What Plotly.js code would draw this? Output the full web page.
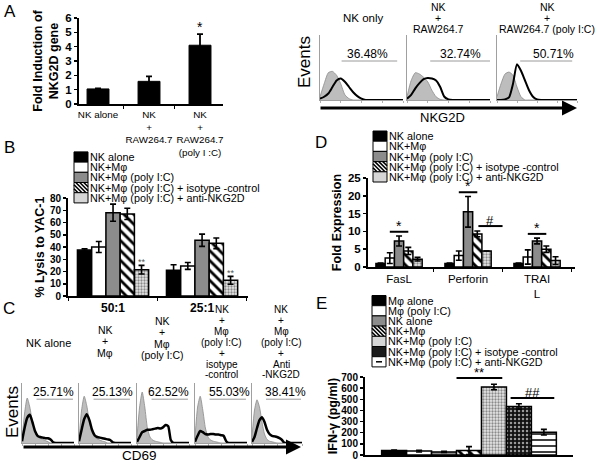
<!DOCTYPE html>
<html><head><meta charset="utf-8">
<script src="https://cdn.plot.ly/plotly-3.0.1.min.js"></script>
<style>html,body{margin:0;padding:0;background:#fff}#chart{width:598px;height:463px}</style>
</head><body><div id="chart"></div>
<script>
// ================= DATA =================
// Panel A - bar chart
const aCats = ['NK alone', 'NK<br>+<br>RAW264.7', 'NK<br>+<br>RAW264.7<br>(poly I :C)'];
const aVals = [1.05, 1.58, 4.1];
const aErr  = [0.03, 0.35, 0.78];
const aSig  = ['', '', '*'];

// Panel A - NKG2D histograms (percent of panel height per bin)
const histBins = [0,5,10,15,20,25,30,35,40,45,50,55,60,65,70,75,80,85,90,95,100];
const aHistTitles = [['NK only'], ['NK','+','RAW264.7'], ['NK','+','RAW264.7 (poly I:C)']];
const aHistPct = ['36.48%', '32.74%', '50.71%'];
const aIso1   = [5,25,42,44,38,25,8,2,0,0,0,0,0,0,0,0,0,0,0,0,0];
const aStain1 = [2,5,10,20,30,33,28,20,12,6,2,0,0,0,0,0,0,0,0,0,0];
const aIso2   = [5,30,42,40,35,28,15,5,1,0,0,0,0,0,0,0,0,0,0,0,0];
const aStain2 = [2,8,18,26,32,34,33,30,20,5,1,0,0,0,0,0,0,0,0,0,0];
const aIso3   = [5,25,40,43,38,20,5,0,0,0,0,0,0,0,0,0,0,0,0,0,0];
const aStain3 = [0,0,1,4,25,55,45,30,15,5,1,0,0,0,0,0,0,0,0,0,0];

// Panel B - % lysis to YAC-1
const bCats = ['50:1', '25:1'];
const bNames = ['NK alone', 'NK+Mφ', 'NK+Mφ (poly I:C)', 'NK+Mφ (poly I:C) + isotype -control', 'NK+Mφ (poly I:C) + anti-NKG2D'];
const bNKalone = [37.5, 21];   const bNKaloneErr = [1, 4.5];
const bNKM     = [40, 24.5];   const bNKMErr     = [4.5, 2.8];
const bPoly    = [68, 45.5];   const bPolyErr    = [7, 5];
const bIso     = [67, 43];     const bIsoErr     = [4.6, 4.3];
const bAnti    = [21.5, 12.8]; const bAntiErr    = [3.5, 3.2];
const bSig = ['**', '**'];

// Panel C - CD69 histograms
const cHistTitles = [['NK alone'], ['NK','+','Mφ'], ['NK','+','Mφ','(poly I:C)'],
  ['NK','+','Mφ','(poly I:C)','+','isotype','-control'], ['NK','+','Mφ','(poly I:C)','+','Anti','-NKG2D']];
const cHistPct = ['25.71%', '25.13%', '62.52%', '55.03%', '38.41%'];
const cIso1   = [5,50,75,60,35,18,10,8,6,4,2,0,0,0,0,0,0,0,0,0,0];
const cStain1 = [3,25,42,47,35,20,12,10,9,8,8,6,1,0,0,0,0,0,0,0,0];
const cIso2   = [5,55,78,62,35,18,10,7,5,3,2,0,0,0,0,0,0,0,0,0,0];
const cStain2 = [3,22,40,48,38,22,13,10,9,8,7,6,5,1,0,0,0,0,0,0,0];
const cIso3   = [10,60,85,60,25,10,5,3,2,1,0,0,0,0,0,0,0,0,0,0,0];
const cStain3 = [2,10,18,20,22,22,23,24,25,24,26,30,28,5,0,0,0,0,0,0,0];
const cIso4   = [10,60,78,55,25,10,5,3,2,1,0,0,0,0,0,0,0,0,0,0,0];
const cStain4 = [2,12,20,18,15,14,15,15,14,14,13,12,3,0,0,0,0,0,0,0,0];
const cIso5   = [10,55,72,60,35,15,6,3,2,1,0,0,0,0,0,0,0,0,0,0,0];
const cStain5 = [2,10,25,38,43,35,22,15,12,11,10,8,5,0,0,0,0,0,0,0,0];

// Panel D - fold expression
const dCats = ['FasL', 'Perforin', 'TRAI<br>L'];
const dNKalone = [1, 1, 1];         const dNKaloneErr = [0.1, 0.1, 0.1];
const dNKM     = [2.5, 3.2, 2.8];   const dNKMErr     = [1.5, 1.3, 2];
const dPoly    = [7.3, 15.5, 7.3];  const dPolyErr    = [1.4, 4.3, 0.8];
const dIso     = [4.5, 9.3, 5];     const dIsoErr     = [1, 0.8, 0.9];
const dAnti    = [2.2, 4.5, 1.8];   const dAntiErr    = [0.5, 0, 1.1];
const dStar = ['*', '*', '*'];
const dHash = ['', '#', ''];

// Panel E - IFN-gamma
const eCat = ['IFN-γ'];
const eNames = ['Mφ alone', 'Mφ (poly I:C)', 'NK alone', 'NK+Mφ', 'NK+Mφ (poly I:C)',
  'NK+Mφ (poly I:C) + isotype -control', 'NK+Mφ (poly I:C) + anti-NKG2D'];
const eVals = [40, 35, 28, 40, 610, 435, 205];
const eErr  = [5, 8, 6, 35, 25, 25, 25];
const eSig  = ['**', '##'];

// ================= LAYOUT HELPERS =================
const W = 598, H = 463;
const FONT = 'Liberation Sans, Arial, Helvetica, sans-serif';
const px = v => v / W;
const py = v => 1 - v / H;
const xd = (a, b) => [a / W, b / W];
const yd = (top, bot) => [1 - bot / H, 1 - top / H];

const traces = [];
const layout = {
  width: W, height: H, margin: {l: 0, r: 0, t: 0, b: 0},
  paper_bgcolor: '#fff', plot_bgcolor: 'rgba(0,0,0,0)',
  showlegend: false, barmode: 'overlay',
  font: {family: FONT, color: '#000', size: 12},
  shapes: [], annotations: []
};

function axKey(letter, n) { return letter + 'axis' + (n === 1 ? '' : n); }
function axId(letter, n) { return letter + (n === 1 ? '' : n); }
function setAxes(n, xdom, ydom, xopt, yopt) {
  layout[axKey('x', n)] = Object.assign({domain: xdom, anchor: axId('y', n), showgrid: false, zeroline: false, fixedrange: true}, xopt);
  layout[axKey('y', n)] = Object.assign({domain: ydom, anchor: axId('x', n), showgrid: false, zeroline: false, fixedrange: true}, yopt);
}
function barXopt(range, fsize, bold) {
  return {type: 'category', range: range, showline: true, linecolor: '#000', linewidth: 2,
    ticks: 'outside', tickson: 'boundaries', ticklen: 3, tickwidth: 1.5, tickcolor: '#000', tickangle: 0,
    tickfont: bold ? {size: fsize, weight: 'bold', color: '#000'} : {size: fsize, color: '#000'}};
}
function barYopt(range, dtick, title, standoff, tsize) {
  return {range: range, dtick: dtick, showline: true, linecolor: '#000', linewidth: 2,
    ticks: 'outside', ticklen: 3, tickwidth: 1.5, tickcolor: '#000',
    tickfont: {size: tsize, weight: 'bold', color: '#000'},
    title: {text: title, font: {size: 12.5, weight: 'bold', color: '#000'}, standoff: standoff}};
}
function histOpts() {
  return [
    {range: [0, 100], showline: true, linecolor: '#a0a0a0', linewidth: 1, ticks: 'outside', ticklen: 2, tickcolor: '#b0b0b0', dtick: 25, showticklabels: false},
    {range: [0, 100], showline: true, linecolor: '#a0a0a0', linewidth: 1, ticks: '', showticklabels: false}
  ];
}

const MARK = {
  black:    {color: '#000'},
  white:    {color: '#fff'},
  gray:     {color: '#8c8c8c'},
  hatch:    {color: '#fff', pattern: {shape: '\\', fgcolor: '#000', bgcolor: '#fff', size: 7, solidity: 0.4}},
  dotlight: {color: '#e0e0e0', pattern: {shape: '.', fgcolor: '#8a8a8a', bgcolor: '#e8e8e8', size: 3, solidity: 0.45}},
  dotdark:  {color: '#111', pattern: {shape: '.', fgcolor: '#9a9a9a', bgcolor: '#111', size: 4, solidity: 0.3}},
  dotwhite: {color: '#fff', pattern: {shape: '-', fgcolor: '#000', bgcolor: '#fff', size: 6, solidity: 0.25}}
};
const SWATCH = {black: '#000', white: '#fff', gray: '#8c8c8c', hatch: '#fff', dotlight: '#d6d6d6', dotdark: '#1a1a1a', dotwhite: '#fff'};

function addBar(n, name, cats, vals, errs, kind, offset, width) {
  const m = Object.assign({line: {color: '#000', width: 1.5}}, JSON.parse(JSON.stringify(MARK[kind])));
  traces.push({type: 'bar', name: name, x: cats, y: vals, xaxis: axId('x', n), yaxis: axId('y', n),
    marker: m, offset: offset, width: width,
    error_y: {type: 'data', array: errs, visible: true, color: '#000', thickness: 1.6, width: 3},
    hoverinfo: 'skip'});
}
function addHist(n, bins, iso, stain, lw) {
  traces.push({type: 'scatter', mode: 'lines', x: bins, y: iso, xaxis: axId('x', n), yaxis: axId('y', n),
    fill: 'tozeroy', fillcolor: '#bdbdbd', line: {color: '#8a8a8a', width: 0.8, shape: 'spline', smoothing: 0.6}, hoverinfo: 'skip'});
  traces.push({type: 'scatter', mode: 'lines', x: bins, y: stain, xaxis: axId('x', n), yaxis: axId('y', n),
    line: {color: '#000', width: lw, shape: 'spline', smoothing: 0.6}, hoverinfo: 'skip'});
}
function addText(t, x, y, size, opts) {
  layout.annotations.push(Object.assign({xref: 'paper', yref: 'paper', x: px(x), y: py(y), text: t,
    showarrow: false, xanchor: 'center', yanchor: 'middle', borderpad: 0, font: {size: size, color: '#000'}}, opts || {}));
}
function addLines(lines, xc, yTop, step, size) {
  lines.forEach((t, i) => addText(t, xc, yTop + i * step, size));
}
function gate(n, x0, x1, y, label, xc) {
  layout.shapes.push({type: 'line', xref: axId('x', n), yref: axId('y', n), x0: x0, x1: x1, y0: y, y1: y, line: {color: '#9a9a9a', width: 1}});
  layout.annotations.push({xref: axId('x', n), yref: axId('y', n), x: xc, y: y - 1, text: label, showarrow: false,
    xanchor: 'center', yanchor: 'bottom', borderpad: 0, font: {size: 12, color: '#000'}});
}
function sigLine(n, x0, x1, y, label, size) {
  layout.shapes.push({type: 'line', xref: axId('x', n), yref: axId('y', n), x0: x0, x1: x1, y0: y, y1: y, line: {color: '#000', width: 2}});
  layout.annotations.push({xref: axId('x', n), yref: axId('y', n), x: (x0 + x1) / 2, y: y, text: label, showarrow: false,
    xanchor: 'center', yanchor: 'bottom', yshift: -3, borderpad: 0, font: {size: size || 13, color: '#000'}});
}
function legendBlock(x0, ys, labels, kinds) {
  const sw = 14, sh = 10.2;
  ys.forEach((yc, i) => {
    const top = yc - sh / 2, bot = yc + sh / 2, x1 = x0 + sw;
    layout.shapes.push({type: 'rect', xref: 'paper', yref: 'paper', x0: px(x0), x1: px(x1), y0: py(bot), y1: py(top),
      fillcolor: SWATCH[kinds[i]], line: {color: '#000', width: 1}});
    if (kinds[i] === 'hatch') {
      let path = '';
      for (let c = x0 - bot; c < x1 - top; c += 4) {
        const xa = Math.max(x0, top + c), xb = Math.min(x1, bot + c);
        if (xb > xa) path += 'M' + px(xa) + ',' + py(xa - c) + 'L' + px(xb) + ',' + py(xb - c);
      }
      layout.shapes.push({type: 'path', xref: 'paper', yref: 'paper', path: path, line: {color: '#000', width: 1.6}});
    }
    if (kinds[i] === 'dotwhite') {
      layout.shapes.push({type: 'line', xref: 'paper', yref: 'paper', x0: px(x0 + 4), x1: px(x0 + 10), y0: py(yc), y1: py(yc), line: {color: '#000', width: 1.5}});
    }
    layout.annotations.push({xref: 'paper', yref: 'paper', x: px(x1 + 0.5), y: py(yc), text: labels[i], showarrow: false,
      xanchor: 'left', yanchor: 'middle', borderpad: 0, font: {size: 10.8, color: '#000'}});
  });
}
function bigArrow(xStart, xEnd, y) {
  layout.annotations.push({xref: 'paper', yref: 'paper', x: px(xEnd), y: py(y), ax: xStart - xEnd, ay: 0,
    text: '', showarrow: true, arrowhead: 2, arrowsize: 1, arrowwidth: 3, arrowcolor: '#000'});
}
function rows(mid, n, step) { const r = []; for (let i = 0; i < n; i++) r.push(mid + (i - (n - 1) / 2) * step); return r; }

// ================= PANEL A =================
setAxes(1, xd(79, 223), yd(18, 104), barXopt([-0.373, 2.451], 9.8, false), barYopt([0, 6], 1, 'Fold Induction of<br>NKG2D gene', 4, 11.5));
traces.push({type: 'bar', x: aCats, y: aVals, xaxis: 'x', yaxis: 'y', offset: -0.215, width: 0.43,
  marker: {color: '#000', line: {color: '#000', width: 1}},
  error_y: {type: 'data', array: aErr, visible: true, color: '#000', thickness: 1.8, width: 3}, hoverinfo: 'skip'});
aSig.forEach((s, i) => { if (s) layout.annotations.push({xref: 'x', yref: 'y', x: i, y: aVals[i] + aErr[i], text: s,
  showarrow: false, yanchor: 'bottom', yshift: -2, borderpad: 0, font: {size: 14, color: '#000'}}); });

const aBoxes = [[320, 403], [407, 490], [497, 577]];
const aIsos = [aIso1, aIso2, aIso3], aStains = [aStain1, aStain2, aStain3];
const aGates = [[26, 93, 57], [28, 100, 64], [29, 94, 70]];
aBoxes.forEach((b, i) => {
  const n = 2 + i, o = histOpts();
  setAxes(n, xd(b[0], b[1]), yd(35, 100), o[0], o[1]);
  addHist(n, histBins, aIsos[i], aStains[i], 2);
  gate(n, aGates[i][0], aGates[i][1], 60, aHistPct[i], aGates[i][2]);
});
addLines(aHistTitles[0], 363, 18, 0, 11.5);
addLines(aHistTitles[1], 438, 7, 11, 10.5);
addLines(aHistTitles[2], 547, 7, 11, 10.5);
bigArrow(319, 577, 108);
addText('NKG2D', 443, 118, 13);
addText('Events', 304, 62, 17, {textangle: -90});

// ================= PANEL B =================
setAxes(5, xd(68, 248), yd(198, 296), barXopt([-0.506, 1.516], 12, true), barYopt([0, 80], 10, '% Lysis to YAC-1', 3, 10));
const kinds5 = ['black', 'white', 'gray', 'hatch', 'dotlight'];
[[bNKalone, bNKaloneErr], [bNKM, bNKMErr], [bPoly, bPolyErr], [bIso, bIsoErr], [bAnti, bAntiErr]].forEach((s, i) =>
  addBar(5, bNames[i], bCats, s[0], s[1], kinds5[i], -0.4 + i * 0.16, 0.16));
bSig.forEach((s, i) => layout.annotations.push({xref: 'x5', yref: 'y5', x: i + 0.32, y: bAnti[i] + bAntiErr[i], text: s,
  showarrow: false, yanchor: 'bottom', yshift: -3, borderpad: 0, font: {size: 9, color: '#555'}}));
legendBlock(74, rows(177.4, 5, 10.2), bNames, kinds5);

// ================= PANEL C =================
const cBoxes = [[22, 74], [79, 131], [137, 189], [195, 247], [252, 302]];
const cIsos = [cIso1, cIso2, cIso3, cIso4, cIso5], cStains = [cStain1, cStain2, cStain3, cStain4, cStain5];
const cPctX = [60, 65, 60, 67, 66];
cBoxes.forEach((b, i) => {
  const n = 6 + i, o = histOpts();
  setAxes(n, xd(b[0], b[1]), yd(383, 443), o[0], o[1]);
  addHist(n, histBins, cIsos[i], cStains[i], 2.5);
  gate(n, 28, 98, 73, cHistPct[i], cPctX[i]);
});
addLines(cHistTitles[0], 48, 343, 0, 11);
addLines(cHistTitles[1], 105, 330, 11.3, 10.5);
addLines(cHistTitles[2], 162, 321, 11.3, 10.5);
addLines(cHistTitles[3], 222, 309.5, 10.9, 10);
addLines(cHistTitles[4], 281, 309.5, 10.9, 10);
bigArrow(22, 301, 447);
addText('CD69', 139, 455, 13.5);
addText('Events', 12, 412, 17, {textangle: -90});

// ================= PANEL D =================
setAxes(11, xd(368, 575), yd(178, 267), barXopt([-0.45, 2.55], 11.5, false), barYopt([0, 25], 5, 'Fold Expression', 4, 11.5));
[[dNKalone, dNKaloneErr], [dNKM, dNKMErr], [dPoly, dPolyErr], [dIso, dIsoErr], [dAnti, dAntiErr]].forEach((s, i) =>
  addBar(11, bNames[i], dCats, s[0], s[1], kinds5[i], -0.335 + i * 0.134, 0.134));
dStar.forEach((s, i) => { if (s) sigLine(11, i - 0.134, i + 0.134, dPoly[i] + dPolyErr[i] + 1.2, s, 14); });
dHash.forEach((s, i) => { if (s) sigLine(11, i + 0.15, i + 0.5, dIso[i] + dIsoErr[i] + 1.4, s, 13); });
legendBlock(373, rows(156.5, 5, 10.2), bNames, kinds5);

// ================= PANEL E =================
const eKinds = ['black', 'white', 'gray', 'hatch', 'dotlight', 'dotdark', 'dotwhite'];
setAxes(12, xd(365, 573), yd(377, 455), Object.assign(barXopt([-0.5, 0.5], 11, false), {showticklabels: false, tickson: 'labels', ticks: ''}),
  barYopt([0, 700], 100, 'IFN-γ (pg/ml)', 1, 10));
eVals.forEach((v, i) => addBar(12, eNames[i], eCat, [v], [eErr[i]], eKinds[i], -0.42 + i * 0.12, 0.12));
sigLine(12, -0.06, 0.16, Math.max(eVals[3] + eErr[3], eVals[4] + eErr[4]) + 56, eSig[0], 13);
sigLine(12, 0.2, 0.41, eVals[5] + eErr[5] + 51, eSig[1], 13);
legendBlock(372, rows(331.2, 7, 10.2), eNames, eKinds);

// ================= PANEL LETTERS =================
[['A', 10, 11], ['B', 9, 147], ['C', 9, 308], ['D', 321, 142], ['E', 321, 303]].forEach(p => addText(p[0], p[1], p[2], 17));

Plotly.newPlot('chart', traces, layout, {staticPlot: true, displayModeBar: false});
</script>
</body></html>
